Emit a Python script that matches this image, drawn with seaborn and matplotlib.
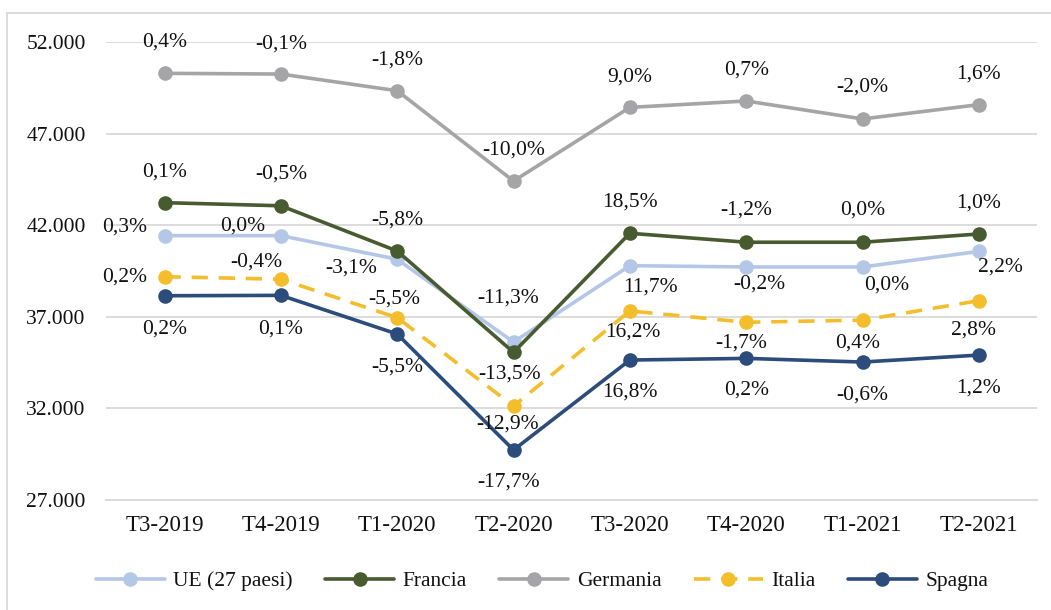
import matplotlib
matplotlib.use("Agg")
import matplotlib.pyplot as plt
import seaborn as sns
import pandas as pd
from matplotlib.patches import Rectangle
from matplotlib.lines import Line2D

# ---- data ----
quarters = ["T3-2019", "T4-2019", "T1-2020", "T2-2020",
            "T3-2020", "T4-2020", "T1-2021", "T2-2021"]
series_names = ["UE (27 paesi)", "Francia", "Germania", "Italia", "Spagna"]

ue_values = [41430, 41430, 40140, 35620, 39790, 39720, 39720, 40570]
francia_values = [43230, 43060, 40590, 35060, 41560, 41070, 41070, 41520]
germania_values = [50290, 50250, 49340, 44410, 48430, 48780, 47800, 48580]
italia_values = [39190, 39050, 36950, 32130, 37320, 36700, 36820, 37880]
spagna_values = [38150, 38170, 36060, 29730, 34640, 34730, 34530, 34910]

ue_labels = ["0,3%", "0,0%", "-3,1%", "-11,3%", "11,7%", "-0,2%", "0,0%", "2,2%"]
francia_labels = ["0,1%", "-0,5%", "-5,8%", "-13,5%", "18,5%", "-1,2%", "0,0%", "1,0%"]
germania_labels = ["0,4%", "-0,1%", "-1,8%", "-10,0%", "9,0%", "0,7%", "-2,0%", "1,6%"]
italia_labels = ["0,2%", "-0,4%", "-5,5%", "-12,9%", "16,2%", "-1,7%", "0,4%", "2,8%"]
spagna_labels = ["0,2%", "0,1%", "-5,5%", "-17,7%", "16,8%", "0,2%", "-0,6%", "1,2%"]

y_ticks = [27000, 32000, 37000, 42000, 47000, 52000]
y_tick_labels = ["27.000", "32.000", "37.000", "42.000", "47.000", "52.000"]

# ---- styling (positions / colours) ----
colors = {"UE (27 paesi)": "#B4C7E7", "Francia": "#485A2F", "Germania": "#A5A5A7",
          "Italia": "#F4BD2B", "Spagna": "#2C4D7B"}
label_offsets = {  # pixels (dx, dy up)
    "UE (27 paesi)": [(-40, 9), (-38, 10), (-46, -9), (-5, 44), (21, -21), (13, -17), (24, -18), (22, -16)],
    "Francia": [(0, 31), (0, 32), (0, 31), (-4, -22), (0, 31), (0, 32), (0, 32), (0, 31)],
    "Germania": [(0, 31), (0, 30), (0, 31), (0, 31), (0, 30), (0, 31), (0, 32), (0, 31)],
    "Italia": [(-40, 0), (-25, 17), (-3, 19), (-6, -18), (3, -21), (-5, -21), (-5, -23), (-5, -29)],
    "Spagna": [(0, -33), (0, -34), (0, -33), (-5, -32), (0, -32), (0, -32), (0, -33), (0, -33)],
}

values = {"UE (27 paesi)": ue_values, "Francia": francia_values, "Germania": germania_values,
          "Italia": italia_values, "Spagna": spagna_values}
labels = {"UE (27 paesi)": ue_labels, "Francia": francia_labels, "Germania": germania_labels,
          "Italia": italia_labels, "Spagna": spagna_labels}

sns.set_theme(style="white")
plt.rcParams["font.family"] = ["Liberation Serif", "DejaVu Serif"]
FS = 15.5

fig = plt.figure(figsize=(10.51, 6.10), dpi=100)
W, H = 1051, 610
ax = fig.add_axes([106.4 / W, 1 - 500 / H, (1037 - 106.4) / W, (500 - 42) / H])

# chart border
fig.patches.append(Rectangle((7 / W, -0.1), 1.2, 1 - 13 / H + 0.1, transform=fig.transFigure,
                             fill=False, edgecolor="#D9D9D9", linewidth=1.3, zorder=0))

draw_order = ["Germania", "UE (27 paesi)", "Italia", "Spagna", "Francia"]
for name in draw_order:
    df = pd.DataFrame({"Trimestre": quarters, "Valore": values[name]})
    sns.lineplot(data=df, x="Trimestre", y="Valore", ax=ax, sort=False, color=colors[name],
                 marker="o", markersize=10.5, markeredgewidth=0, linewidth=2.6, legend=False)
    line = ax.lines[-1]
    line.set_solid_capstyle("round")
    if name == "Italia":
        line.set_dashes((4.5, 3.0))
    for i, (v, t) in enumerate(zip(values[name], labels[name])):
        dx, dy = label_offsets[name][i]
        ax.annotate(t, xy=(i, v), xytext=(dx, dy), textcoords="offset pixels",
                    ha="center", va="center", fontsize=FS, color="#111111", zorder=5)

ax.set_xlim(-0.5, len(quarters) - 0.5)
ax.set_ylim(27000, 52000)
ax.set_yticks(y_ticks)
ax.set_yticklabels(y_tick_labels)
ax.set_xlabel("")
ax.set_ylabel("")
ax.grid(axis="y", color="#D9D9D9", linewidth=1.3)
ax.grid(axis="x", visible=False)
ax.set_axisbelow(True)
for s in ["top", "right", "left"]:
    ax.spines[s].set_visible(False)
ax.spines["bottom"].set_color("#D9D9D9")
ax.spines["bottom"].set_linewidth(1.3)
ax.tick_params(axis="y", length=0, pad=15, labelsize=FS, labelcolor="#111111")
ax.tick_params(axis="x", length=0, pad=11, labelsize=16.5, labelcolor="#111111")

handles = []
for name in series_names:
    h = Line2D([0], [0], color=colors[name], marker="o", markersize=10.5, markeredgewidth=0,
               linewidth=2.6, linestyle="-")
    if name == "Italia":
        h.set_dashes((4.5, 3.0))
    handles.append(h)
leg = fig.legend(handles, series_names, loc="center", bbox_to_anchor=(542 / W, 1 - 581 / H),
                 ncol=5, frameon=False, fontsize=FS, handlelength=3.2, handletextpad=0.4,
                 columnspacing=1.5, borderpad=0)
for t in leg.get_texts():
    t.set_color("#111111")

fig.savefig("out.png", dpi=100)
